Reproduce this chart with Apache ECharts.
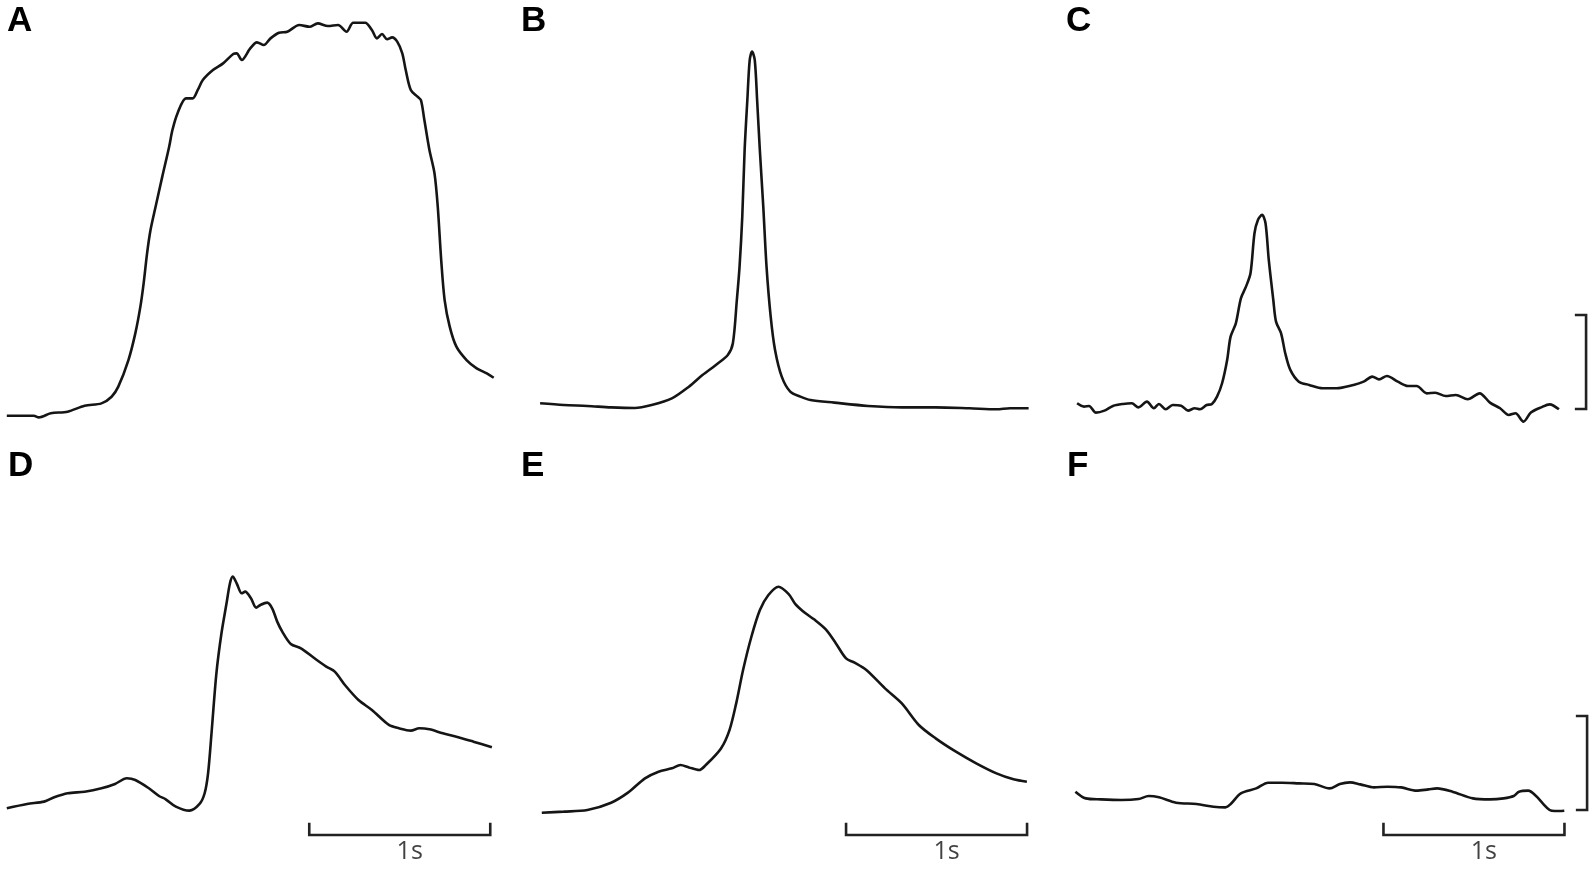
<!DOCTYPE html>
<html><head><meta charset="utf-8">
<script src="https://cdn.jsdelivr.net/npm/echarts@6/dist/echarts.min.js"></script>
<style>html,body{margin:0;padding:0;background:#fff}#c{width:1595px;height:874px}</style>
</head><body><div id="c"></div>
<script>
// ---- data: time in seconds, amplitude in scale-bar units ----
const panelLabels = ['A','B','C','D','E','F'];
const timeBarLabel = '1s';

const tA = [0,.149,.177,.243,.336,.430,.523,.579,.616,.672,.710,.738,.756,.775,.794,.822,.859,.897,.915,.943,.990,1.027,1.055,1.083,1.139,1.195,1.251,1.270,1.298,1.345,1.382,1.420,1.457,1.504,1.550,1.616,1.672,1.718,1.774,1.830,1.877,1.914,1.980,2.017,2.045,2.073,2.101,2.129,2.157,2.185,2.204,2.232,2.269,2.288,2.307,2.335,2.363,2.381,2.400,2.419,2.447,2.484,2.540,2.596,2.652,2.690];
const yA = [0,0,-.018,.025,.043,.106,.131,.202,.309,.592,.876,1.160,1.408,1.727,1.975,2.223,2.543,2.862,3.039,3.216,3.376,3.376,3.465,3.571,3.677,3.748,3.848,3.855,3.784,3.908,3.972,3.943,4.014,4.074,4.085,4.156,4.138,4.174,4.145,4.156,4.085,4.181,4.181,4.103,4.014,4.060,4.004,4.025,3.979,3.855,3.677,3.465,3.394,3.358,3.145,2.826,2.578,2.223,1.656,1.230,.947,.734,.592,.504,.450,.404];

const tB = [0,.131,.261,.392,.523,.616,.728,.822,.897,.971,1.037,1.065,1.087,1.102,1.117,1.130,1.145,1.158,1.171,1.186,1.199,1.214,1.233,1.251,1.274,1.298,1.335,1.382,1.438,1.494,1.625,1.812,1.999,2.185,2.372,2.522,2.596,2.699];
const yB = [0,-.018,-.028,-.043,-.050,-.018,.053,.177,.301,.408,.514,.638,1.099,1.454,1.986,2.695,3.227,3.652,3.741,3.652,3.227,2.695,2.092,1.454,.922,.567,.284,.124,.071,.035,.007,-.028,-.043,-.043,-.053,-.064,-.053,-.053];

const tC = [0,.038,.066,.104,.151,.198,.254,.302,.339,.386,.424,.452,.490,.528,.575,.613,.650,.679,.716,.745,.773,.801,.829,.848,.877,.905,.933,.958,.980,.999,1.022,1.041,1.059,1.084,1.099,1.127,1.150,1.178,1.225,1.282,1.357,1.433,1.527,1.583,1.631,1.668,1.712,1.772,1.828,1.876,1.932,1.979,2.036,2.092,2.158,2.224,2.281,2.337,2.385,2.422,2.466,2.507,2.564,2.611,2.662];
const yC = [0,-.035,-.028,-.099,-.078,-.028,-.007,0,-.043,.018,-.053,-.007,-.064,-.018,-.025,-.078,-.053,-.064,-.018,-.007,.071,.213,.461,.709,.851,1.117,1.241,1.383,1.809,1.950,2.004,1.915,1.525,1.099,.869,.745,.532,.355,.230,.195,.160,.160,.195,.230,.284,.255,.291,.230,.184,.184,.106,.113,.078,.089,.043,.106,.007,-.053,-.124,-.106,-.195,-.099,-.043,-.011,-.064];

const tD = [0,.112,.206,.262,.336,.430,.523,.598,.663,.710,.785,.841,.878,.934,1.009,1.065,1.093,1.112,1.131,1.158,1.186,1.214,1.233,1.248,1.270,1.298,1.317,1.349,1.378,1.401,1.438,1.466,1.494,1.522,1.569,1.625,1.700,1.765,1.812,1.868,1.943,2.017,2.111,2.167,2.232,2.279,2.335,2.409,2.484,2.578,2.680];
const yD = [0,.046,.071,.117,.160,.177,.213,.259,.319,.301,.213,.131,.096,.018,-.025,.046,.160,.372,.798,1.436,1.862,2.181,2.394,2.465,2.394,2.287,2.305,2.234,2.135,2.163,2.188,2.128,1.986,1.879,1.748,1.702,1.596,1.507,1.454,1.312,1.152,1.046,.887,.851,.826,.851,.840,.798,.762,.709,.649];

const tE = [0,.121,.252,.383,.476,.570,.645,.719,.766,.813,.869,.906,.990,1.037,1.074,1.112,1.158,1.205,1.252,1.308,1.364,1.401,1.457,1.504,1.569,1.625,1.681,1.728,1.793,1.896,1.989,2.083,2.176,2.288,2.400,2.512,2.606,2.680];
const yE = [0,.011,.028,.106,.213,.365,.436,.472,.507,.482,.454,.507,.684,.879,1.163,1.518,1.872,2.156,2.316,2.404,2.326,2.220,2.121,2.057,1.950,1.801,1.642,1.596,1.518,1.323,1.163,.933,.791,.649,.525,.418,.355,.330];

const tF = [0,.057,.141,.254,.349,.405,.462,.556,.669,.763,.829,.858,.914,.999,1.065,1.140,1.235,1.320,1.404,1.461,1.517,1.574,1.649,1.725,1.800,1.885,1.951,1.998,2.083,2.196,2.290,2.366,2.422,2.451,2.502,2.545,2.582,2.620,2.648,2.701];
const yF = [0,-.071,-.082,-.089,-.078,-.046,-.060,-.117,-.131,-.160,-.167,-.131,-.018,.035,.096,.096,.089,.082,.035,.082,.099,.078,.046,.053,.046,.011,.025,.035,0,-.071,-.082,-.071,-.046,0,.011,-.046,-.124,-.195,-.206,-.202];

const scaleTime = 1;   // horizontal bar length, s
const scaleAmp = 1;    // vertical bar length, units

// ---- layout (pixels) ----
const PX_S = 181, PX_U = 94;
const layout = [
  {L:0,    T:0,   W:530, H:440, ox:6.8,    oy:415.7, lx:7,    ly:4},
  {L:530,  T:0,   W:530, H:440, ox:540.1,  oy:403.3, lx:521,  ly:4},
  {L:1060, T:0,   W:535, H:440, ox:1077.1, oy:403.3, lx:1066, ly:4},
  {L:0,    T:440, W:530, H:434, ox:6.8,    oy:808.3, lx:8,    ly:449},
  {L:530,  T:440, W:530, H:434, ox:541.8,  oy:812.7, lx:521,  ly:449},
  {L:1060, T:440, W:535, H:434, ox:1075.4, oy:791.7, lx:1067, ly:449}
];
const timeBars = [{p:3, t0:1.671, a:-0.284}, {p:4, t0:1.681, a:-0.237}, {p:5, t0:1.702, a:-0.461}];
const ampBars  = [{p:2, t:2.812, a0:-0.061}, {p:5, t:2.827, a0:-0.195}];
const TICK_U = 0.13, TICK_S = 0.062;

const times = [tA,tB,tC,tD,tE,tF];
const amps  = [yA,yB,yC,yD,yE,yF];
const zip = (t,y) => t.slice(0, Math.min(t.length,y.length)).map((v,i)=>[v,y[i]]);

const grid=[], xAxis=[], yAxis=[], series=[], graphic=[];
layout.forEach((p,i)=>{
  grid.push({left:p.L, top:p.T, width:p.W, height:p.H, containLabel:false, show:false});
  xAxis.push({type:'value', gridIndex:i, show:false, min:(p.L-p.ox)/PX_S, max:(p.L+p.W-p.ox)/PX_S, splitLine:{show:false}});
  yAxis.push({type:'value', gridIndex:i, show:false, min:(p.oy-(p.T+p.H))/PX_U, max:(p.oy-p.T)/PX_U, splitLine:{show:false}});
  series.push({type:'line', xAxisIndex:i, yAxisIndex:i, data:zip(times[i],amps[i]),
    symbol:'none', smooth:0.3, silent:true, clip:false,
    lineStyle:{color:'#151515', width:2.6}});
  graphic.push({type:'text', left:p.lx, top:p.ly,
    style:{text:panelLabels[i], font:'bold 35px "Liberation Sans", Arial, sans-serif', fill:'#000'}});
});
timeBars.forEach(b=>{
  series.push({type:'line', xAxisIndex:b.p, yAxisIndex:b.p, symbol:'none', silent:true, clip:false,
    data:[[b.t0,b.a+TICK_U],[b.t0,b.a],[b.t0+scaleTime,b.a],[b.t0+scaleTime,b.a+TICK_U]],
    lineStyle:{color:'#222', width:2.6, join:'miter'}});
  series.push({type:'scatter', xAxisIndex:b.p, yAxisIndex:b.p, silent:true, symbolSize:1,
    itemStyle:{color:'rgba(0,0,0,0)'},
    data:[[b.t0+scaleTime/2+0.055, b.a]],
    label:{show:true, formatter:timeBarLabel, position:'bottom', distance:4,
      fontSize:25, fontFamily:'"Open Sans", sans-serif', fontWeight:500, color:'#111'}});
});
ampBars.forEach(b=>{
  series.push({type:'line', xAxisIndex:b.p, yAxisIndex:b.p, symbol:'none', silent:true, clip:false,
    data:[[b.t-TICK_S,b.a0+scaleAmp],[b.t,b.a0+scaleAmp],[b.t,b.a0],[b.t-TICK_S,b.a0]],
    lineStyle:{color:'#222', width:2.6, join:'miter'}});
});

const chart = echarts.init(document.getElementById('c'), null, {renderer:'canvas'});
chart.setOption({animation:false, backgroundColor:'#fff', grid, xAxis, yAxis, series, graphic});
</script>
</body></html>
